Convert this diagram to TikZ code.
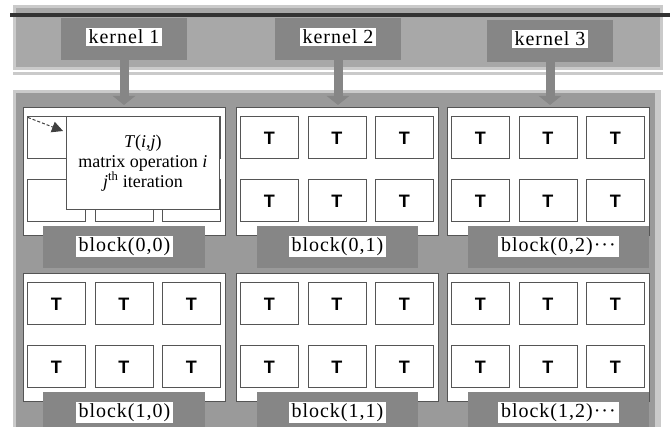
\documentclass[tikz,border=0pt]{standalone}
\usepackage{fontspec}
\setmainfont{Liberation Serif}
\setsansfont{Liberation Sans}
\newfontfamily\spacedfont[LetterSpace=5]{Liberation Serif}
\usetikzlibrary{calc,positioning,arrows.meta}
\definecolor{rim}{HTML}{CACACA}
\definecolor{panel}{HTML}{A8A8A8}
\definecolor{grid}{HTML}{9A9A9A}
\definecolor{dark}{HTML}{868686}
\definecolor{edge}{HTML}{555555}
\def\cw{58}
\def\ch{42}
\tikzstyle{kernel}  = [rectangle, fill=dark, minimum width=126pt, minimum height=42pt, inner sep=0pt]
\tikzstyle{tag}     = [fill=white, inner xsep=3pt, inner ysep=1.5pt, font=\spacedfont\fontsize{20}{22}\selectfont]
\tikzstyle{block}   = [rectangle, draw=edge, line width=0.8pt, fill=white, minimum width=202pt, minimum height=128pt, inner sep=0pt, anchor=north west]
\tikzstyle{cell}    = [rectangle, draw=edge, line width=0.8pt, fill=white, minimum width=\cw pt, minimum height=\ch pt, inner sep=0pt, anchor=north west, font=\sffamily\bfseries\fontsize{18}{18}\selectfont]
\tikzstyle{base}    = [rectangle, fill=dark, minimum height=42pt, inner sep=0pt]
\tikzstyle{feed}    = [line width=9pt, draw=dark, -{Triangle[width=22pt,length=9pt]}]
\tikzstyle{pointer} = [densely dashed, black!75, line width=1pt, -{Triangle[width=11pt,length=11pt]}]
\tikzstyle{note}    = [rectangle, draw=edge, line width=0.8pt, fill=white, minimum width=153pt, minimum height=93pt, anchor=north west, align=center, font=\fontsize{18}{20}\selectfont]

\begin{document}
\begin{tikzpicture}[x=1pt,y=-1pt]
	\useasboundingbox (0,0) rectangle (670,427);
	\begin{scope}
		\clip (0,0) rectangle (670,427);
		\fill[rim] (13,5) rectangle (663,70);
		\fill[panel] (16,8) rectangle (660,67);
		\draw[rim, line width=3pt] (13,73.5) -- (663,73.5);
		\draw[black!80, line width=4pt] (10,15) -- (670,15);
		\fill[rim] (13,90) rectangle (661,432);
		\fill[grid] (16,93) rectangle (655,432);

		\node[kernel] (k1) at (124,39) {};
		\node[kernel] (k2) at (338,39) {};
		\node[kernel] (k3) at (550,41) {};
		\foreach \n in {1,2,3}
			\node[tag] (kt\n) at ([yshift=2pt]k\n.center) {kernel \n};

		\foreach \r/\y in {0/107,1/273}{
			\foreach \c/\x in {0/23,1/236,2/447}{
				\node[block] (b\r\c) at (\x,\y) {};
				\foreach \i in {0,1}{
					\foreach \j in {0,1,2}{
						\pgfmathsetmacro\k{(\r==0 && \c==0) ? 0 : 1}
						\node[cell] (c\r\c\i\j) at ($(b\r\c.north west)+(4+67.5*\j,9.5+63*\i)$)
							{\ifnum\k=1 T\fi};
					}
				}
			}
		}

		\foreach \r in {0,1}{
			\foreach \c/\w/\dx in {0/162/0,1/161/0,2/181/10}{
				\node[base, minimum width=\w pt] (lb\r\c) at ($(b\r\c.south)+(\dx,11)$) {};
				\ifnum\c=2
					\node[tag] (lt\r\c) at (lb\r\c.center) {block(\r,\c)···};
				\else
					\node[tag] (lt\r\c) at (lb\r\c.center) {block(\r,\c)};
				\fi
			}
		}

		\foreach \n/\c in {1/0,2/1,3/2}
			\draw[feed] (k\n.south) -- ([yshift=2pt]k\n.south |- b0\c.north);

		\node[note] (info) at (66,116) {\textit{T}(\textit{i},\textit{j})\\ matrix operation \textit{i}\\ \textit{j}\textsuperscript{th} iteration};
		\draw[pointer] ($(c0000.north west)+(1,1)$) -- ($(info.north west)+(-3,15)$);
	\end{scope}
\end{tikzpicture}
\end{document}
